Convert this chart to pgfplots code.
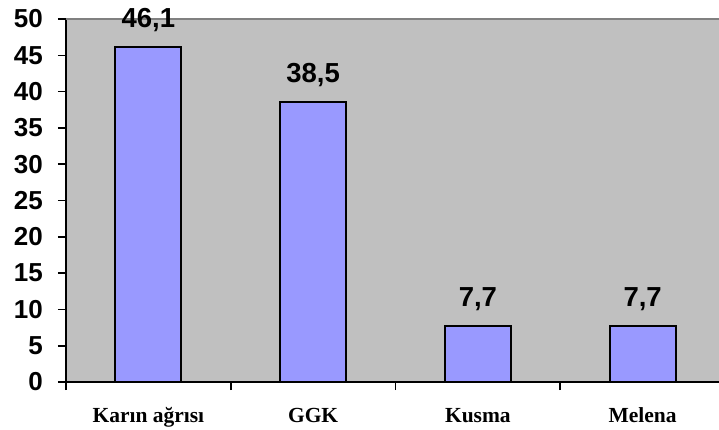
\documentclass[border=0pt]{standalone}
\usepackage{pgfplots}
\pgfplotsset{compat=1.18}
\usepackage{fontspec}
\setmainfont{Liberation Serif}
\newfontfamily\arial{Liberation Sans}
\definecolor{plotgray}{HTML}{C0C0C0}
\definecolor{barblue}{HTML}{9999FF}
\definecolor{topgray}{HTML}{808080}
\begin{document}
\begin{tikzpicture}
\path[use as bounding box] (-66bp,-48bp) rectangle (653bp,382bp);
\begin{axis}[
  scale only axis,
  width=659bp, height=363bp,
  xmin=-0.5, xmax=3.5,
  ymin=0, ymax=50,
  ytick={0,5,...,50},
  xtick={-0.5,0.5,1.5,2.5,3.5},
  xticklabels={},
  extra x ticks={0,1,2,3},
  extra x tick labels={Karın ağrısı, GGK, Kusma, Melena},
  extra x tick style={major tick length=0pt},
  axis x line*=bottom,
  axis y line*=left,
  axis line style={black, line width=2bp, -},
  axis background/.style={fill=plotgray},
  tick align=outside,
  major tick length=8bp,
  tick style={black, line width=1.6bp},
  xticklabel style={font=\bfseries\fontsize{21.5bp}{24bp}\selectfont, anchor=base, yshift=-40bp, inner sep=0pt},
  yticklabel style={font=\arial\bfseries\fontsize{26bp}{28bp}\selectfont, anchor=east, inner sep=0pt, xshift=-15bp},
  /pgf/number format/assume math mode=true,
  ybar,
  bar width=66bp,
  nodes near coords={\pgfmathprintnumber[use comma,fixed,fixed zerofill,precision=1]{\pgfplotspointmeta}},
  every node near coord/.append style={font=\arial\bfseries\fontsize{27.5bp}{30bp}\selectfont, anchor=base, inner sep=0pt, yshift=20bp, black},
  clip=false,
]
\addplot[fill=barblue, draw=black, line width=2bp] coordinates {(0,46.1) (1,38.5) (2,7.7) (3,7.7)};
\draw[topgray, line width=2.5bp] (rel axis cs:0,1) -- (rel axis cs:1,1);
\end{axis}
\end{tikzpicture}
\end{document}
